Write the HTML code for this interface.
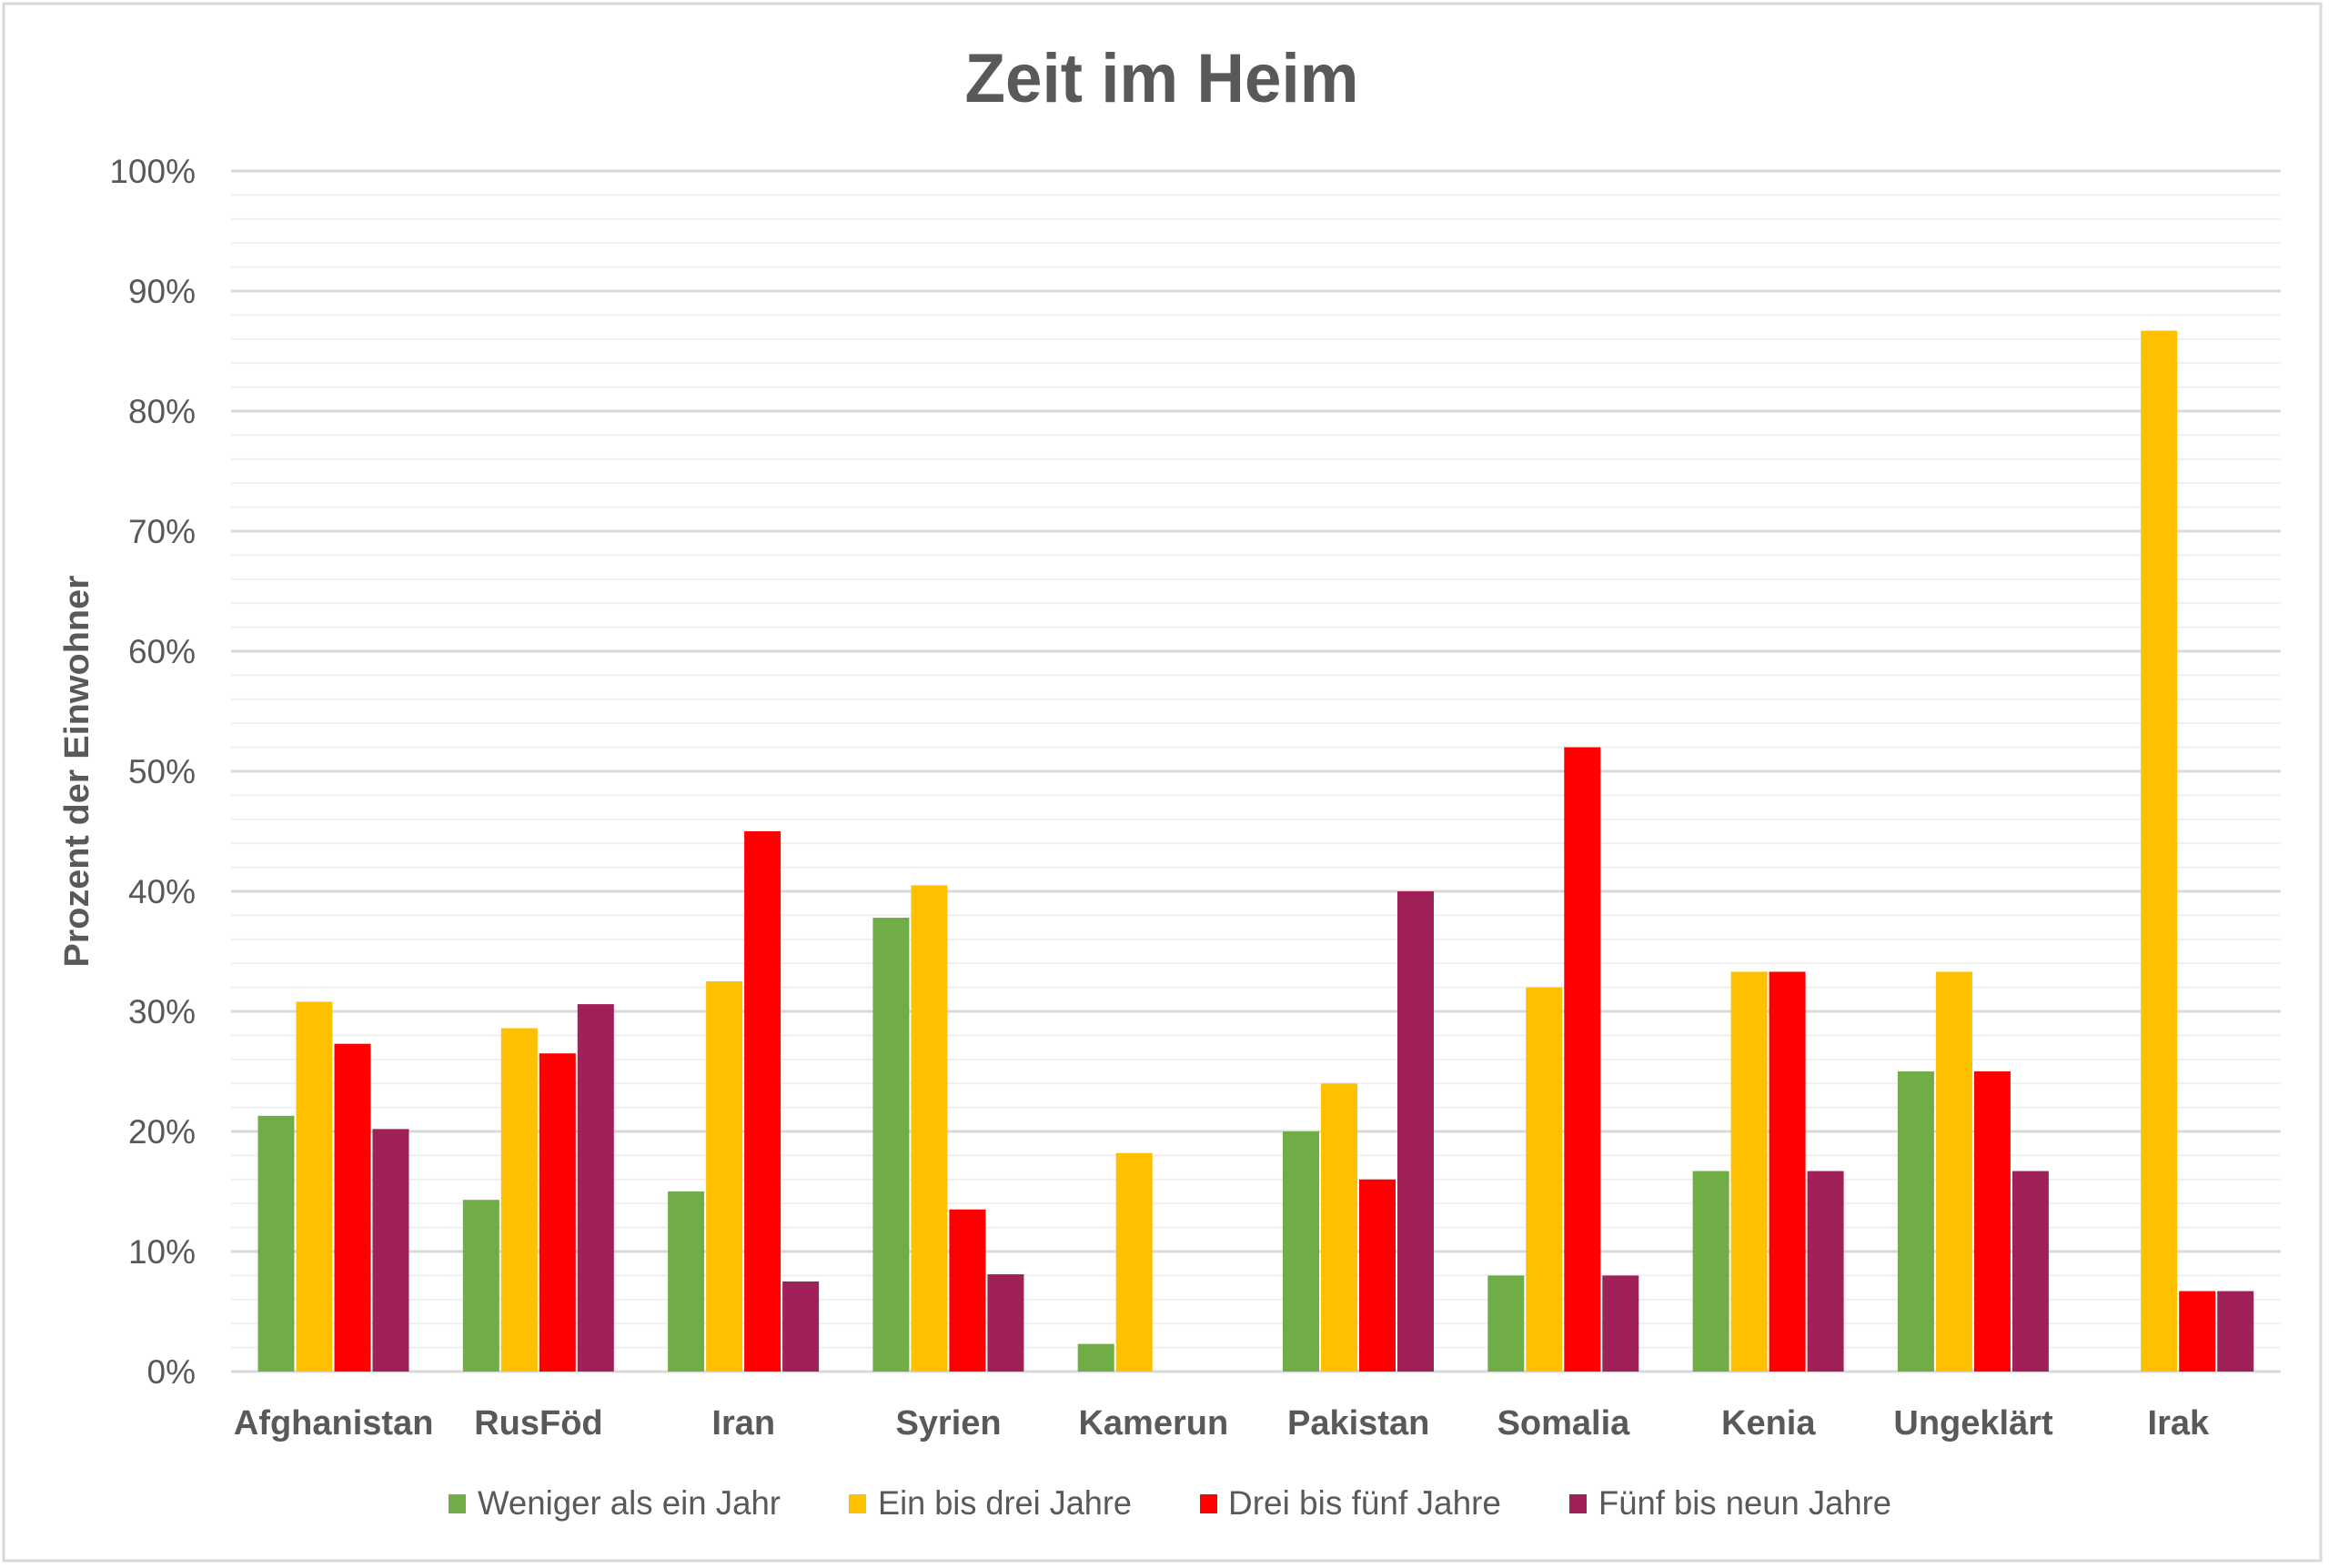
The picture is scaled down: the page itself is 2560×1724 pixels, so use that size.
<!DOCTYPE html>
<html><head><meta charset="utf-8"><style>html,body{margin:0;padding:0;background:#fff}svg{display:block}</style></head>
<body>
<svg width="2560" height="1724" viewBox="0 0 2560 1724" xmlns="http://www.w3.org/2000/svg" font-family="'Liberation Sans', sans-serif">
<rect x="0" y="0" width="2560" height="1724" fill="#fff"/>
<rect x="4" y="4" width="2547" height="1712" fill="none" stroke="#d9d9d9" stroke-width="3"/>
<text x="1277" y="112" text-anchor="middle" font-size="76" font-weight="bold" fill="#595959" textLength="433" lengthAdjust="spacingAndGlyphs">Zeit im Heim</text>
<g id="grid"></g>
<g id="bars"></g>
<g font-size="37" fill="#595959" text-anchor="end" id="yl"></g>
<text transform="translate(97,848) rotate(-90)" text-anchor="middle" font-size="38" font-weight="bold" fill="#595959" textLength="431" lengthAdjust="spacingAndGlyphs">Prozent der Einwohner</text>
<g font-size="38" font-weight="bold" fill="#595959" text-anchor="middle" id="xl"></g>
<g font-size="37" fill="#595959">
<rect x="493" y="1643" width="19" height="21" fill="#70AD47"/>
<text x="525" y="1665" textLength="333" lengthAdjust="spacingAndGlyphs">Weniger als ein Jahr</text>
<rect x="933" y="1643" width="19" height="21" fill="#FFC000"/>
<text x="965" y="1665" textLength="279" lengthAdjust="spacingAndGlyphs">Ein bis drei Jahre</text>
<rect x="1319" y="1643" width="19" height="21" fill="#FF0000"/>
<text x="1350" y="1665" textLength="300" lengthAdjust="spacingAndGlyphs">Drei bis fünf Jahre</text>
<rect x="1725" y="1643" width="19" height="21" fill="#A0215A"/>
<text x="1757" y="1665" textLength="322" lengthAdjust="spacingAndGlyphs">Fünf bis neun Jahre</text>
</g>
<script>
var NS="http://www.w3.org/2000/svg";
function el(t,a,p,txt){var e=document.createElementNS(NS,t);for(var k in a)e.setAttribute(k,a[k]);if(txt!==undefined)e.textContent=txt;document.getElementById(p).appendChild(e);return e;}
var L=254,R=2507,B=1508,U=13.2;
for(var i=0;i<=50;i++){var y=B-i*2*U/1;y=B-i*26.4;var major=i%5==0;
el("line",{x1:L,x2:R,y1:y,y2:y,stroke:major?"#d9d9d9":"#efefef","stroke-width":major?3:2},"grid");
if(major)el("text",{x:215,y:y+13},"yl",(i/5*10)+"%");}
var cats=["Afghanistan","RusFöd","Iran","Syrien","Kamerun","Pakistan","Somalia","Kenia","Ungeklärt","Irak"];
var d=[[21.3,30.8,27.3,20.2],[14.3,28.6,26.5,30.6],[15,32.5,45,7.5],[37.8,40.5,13.5,8.1],[2.3,18.2,0,0],[20,24,16,40],[8,32,52,8],[16.7,33.3,33.3,16.7],[25,33.3,25,16.7],[0,86.7,6.7,6.7]];
var col=["#70AD47","#FFC000","#FF0000","#A0215A"];
var gw=(R-L)/10;
for(var g=0;g<10;g++){var x0=L+g*gw+28.5;
for(var s=0;s<4;s++){var v=d[g][s];if(v<=0)continue;var h=v*U;
el("rect",{x:x0+s*42+1,y:B-h,width:40,height:h,fill:col[s]},"bars");}
el("text",{x:L+g*gw+gw/2,y:1577},"xl",cats[g]);}
</script>
</svg>
</body></html>
